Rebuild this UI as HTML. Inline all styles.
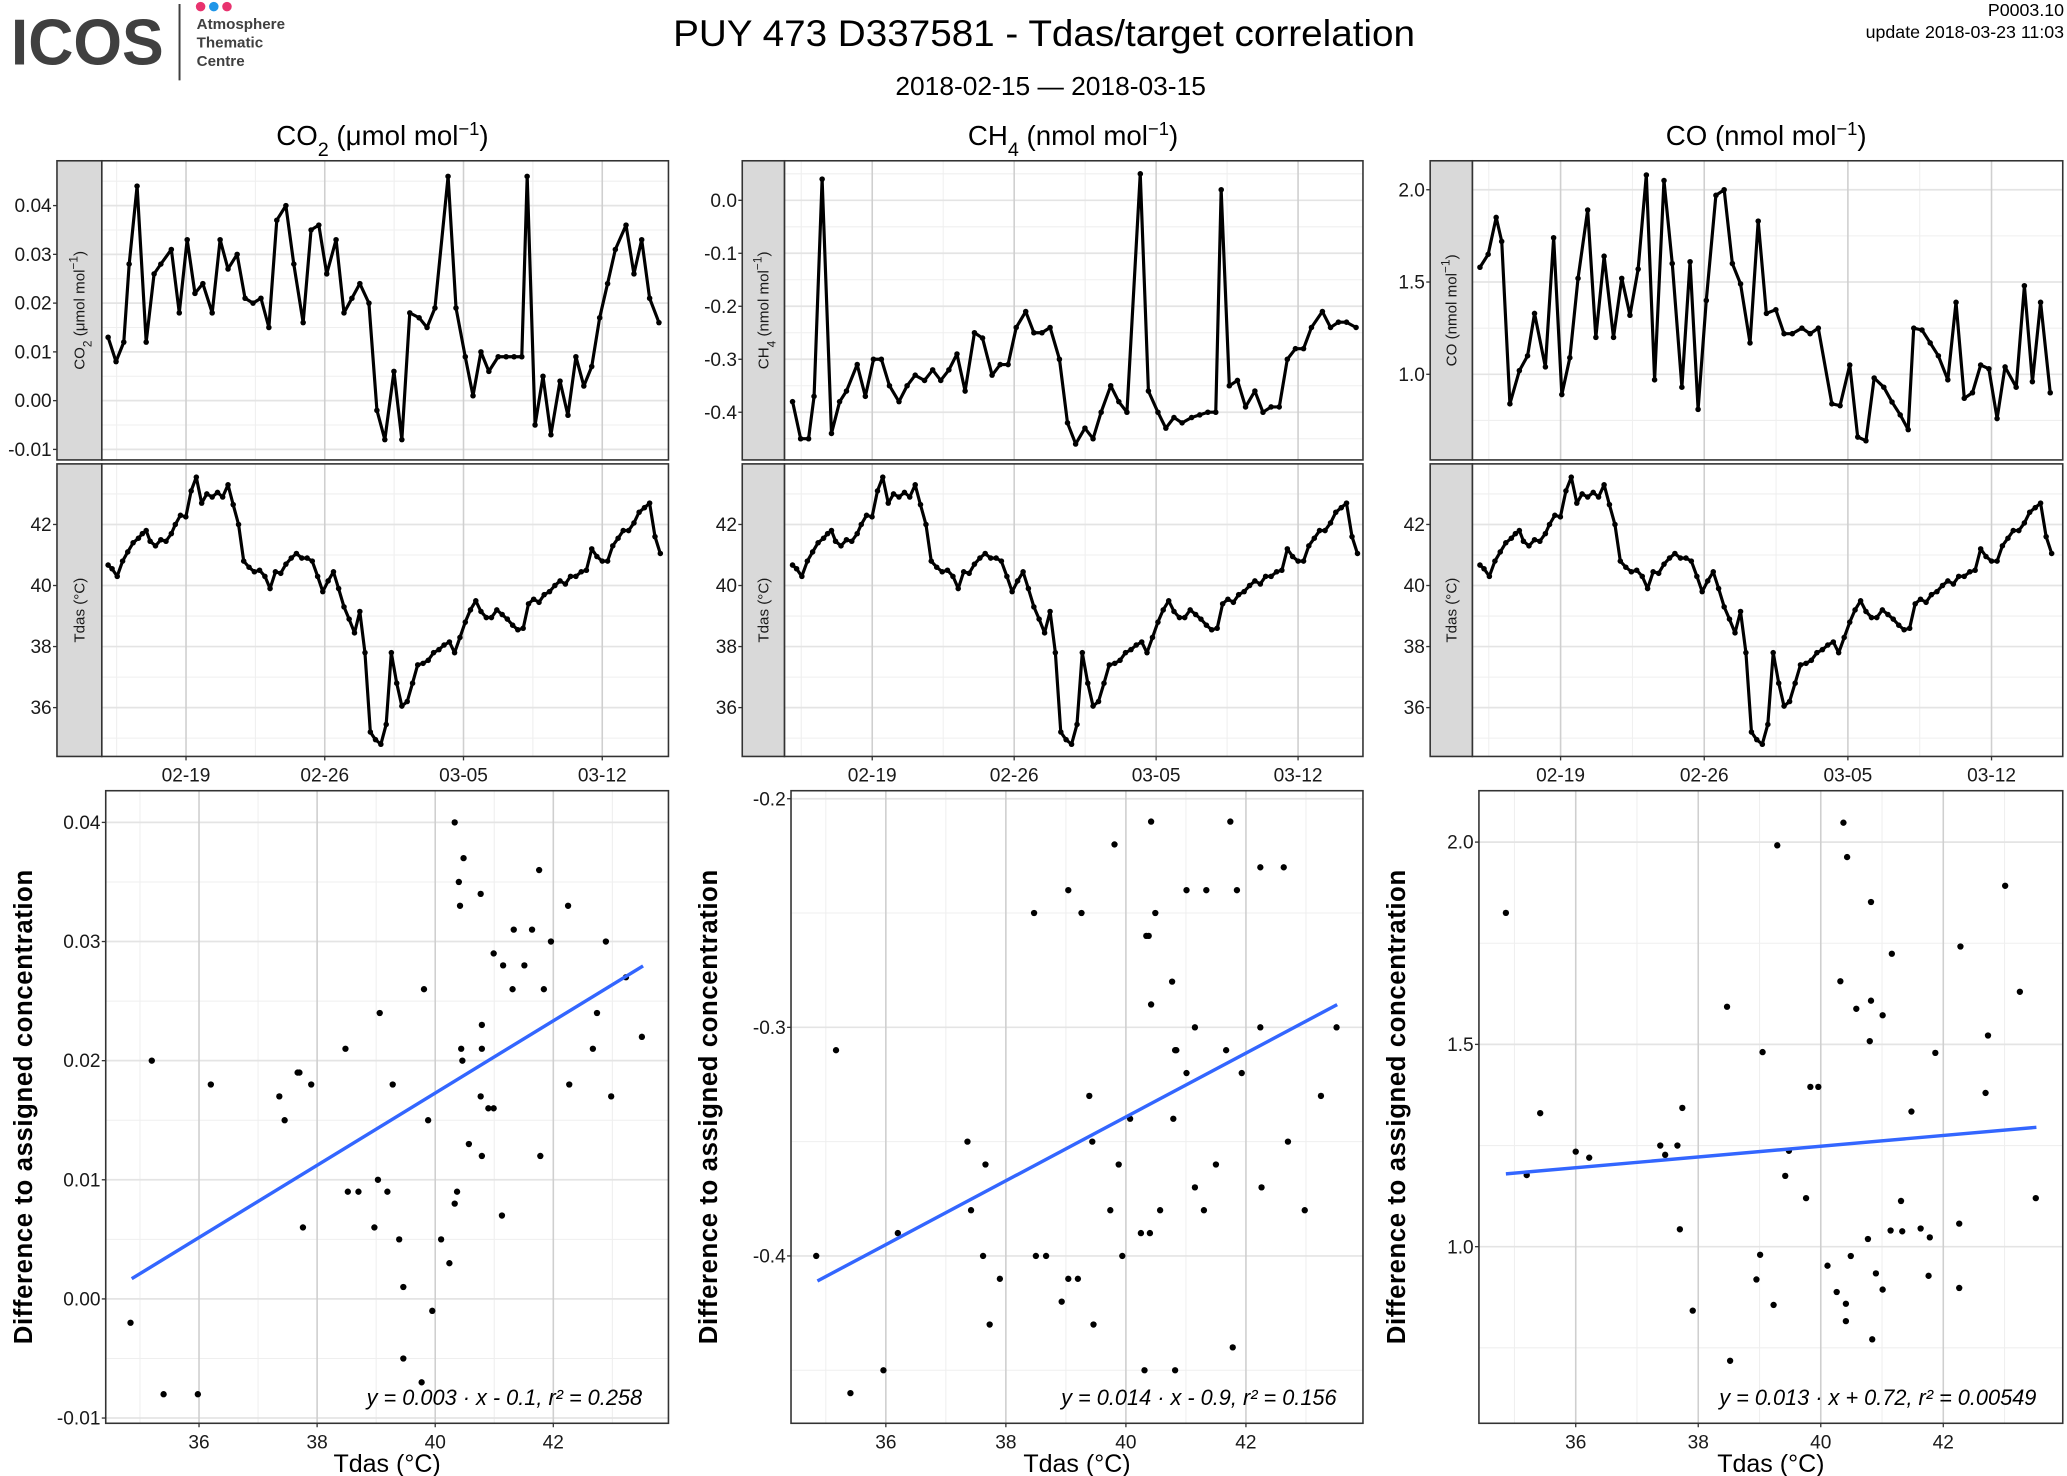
<!DOCTYPE html>
<html><head><meta charset="utf-8"><style>
html,body{margin:0;padding:0;background:#fff}
svg{display:block;font-family:"Liberation Sans",Arial,sans-serif}
</style></head><body>
<svg id="chart" xmlns="http://www.w3.org/2000/svg" width="2067" height="1476" viewBox="0 0 1568 1120">
<g>
<text x="8" y="49" font-size="49" font-weight="bold" fill="#404040" textLength="116" lengthAdjust="spacingAndGlyphs">ICOS</text>
<line x1="136" y1="3" x2="136" y2="61" stroke="#404040" stroke-width="1.5"/>
<circle cx="152" cy="5" r="3.6" fill="#e8336f"/><circle cx="162" cy="5" r="3.6" fill="#1f96e8"/><circle cx="172" cy="5" r="3.6" fill="#e8336f"/>
<text x="149" y="22" font-size="11.5" font-weight="bold" fill="#404040">Atmosphere</text>
<text x="149" y="36" font-size="11.5" font-weight="bold" fill="#404040">Thematic</text>
<text x="149" y="50" font-size="11.5" font-weight="bold" fill="#404040">Centre</text>
</g>
<text x="792" y="35" font-size="28" text-anchor="middle" textLength="563" lengthAdjust="spacingAndGlyphs">PUY 473 D337581 - Tdas/target correlation</text>
<text x="797" y="72" font-size="20" text-anchor="middle">2018-02-15 — 2018-03-15</text>
<text x="1566" y="12" font-size="13.5" text-anchor="end">P0003.10</text>
<text x="1566" y="29" font-size="13.5" text-anchor="end">update  2018-03-23 11:03</text>
<g id="plots"></g>
</svg>
<script>
// ---- data ----
const gasTimes=[0.07,0.47,0.86,1.13,1.53,1.99,2.39,2.73,3.26,3.66,4.06,4.45,4.85,5.32,5.72,6.12,6.58,6.98,7.38,7.78,8.18,8.58,9.04,9.44,9.91,10.31,10.7,11.1,11.57,11.97,12.37,12.77,13.23,13.63,14.03,14.49,14.89,15.29,15.76,16.16,16.56,17.22,17.62,18.09,18.48,18.88,19.28,19.75,20.15,20.55,20.94,21.21,21.61,22.01,22.41,22.87,23.27,23.67,24.07,24.47,24.87,25.27,25.66,26.2,26.6,26.99,27.39,27.86];
const co2Values=[0.013,0.008,0.012,0.028,0.044,0.012,0.026,0.028,0.031,0.018,0.033,0.022,0.024,0.018,0.033,0.027,0.030,0.021,0.020,0.021,0.015,0.037,0.040,0.028,0.016,0.035,0.036,0.026,0.033,0.018,0.021,0.024,0.020,-0.002,-0.008,0.006,-0.008,0.018,0.017,0.015,0.019,0.046,0.019,0.009,0.001,0.010,0.006,0.009,0.009,0.009,0.009,0.046,-0.005,0.005,-0.007,0.004,-0.003,0.009,0.003,0.007,0.017,0.024,0.031,0.036,0.026,0.033,0.021,0.016];
const ch4Values=[-0.38,-0.45,-0.45,-0.37,0.04,-0.44,-0.38,-0.36,-0.31,-0.37,-0.30,-0.30,-0.35,-0.38,-0.35,-0.33,-0.34,-0.32,-0.34,-0.32,-0.29,-0.36,-0.25,-0.26,-0.33,-0.31,-0.31,-0.24,-0.21,-0.25,-0.25,-0.24,-0.30,-0.42,-0.46,-0.43,-0.45,-0.40,-0.35,-0.38,-0.40,0.05,-0.36,-0.40,-0.43,-0.41,-0.42,-0.41,-0.405,-0.40,-0.40,0.02,-0.35,-0.34,-0.39,-0.36,-0.40,-0.39,-0.39,-0.30,-0.28,-0.28,-0.24,-0.21,-0.24,-0.23,-0.23,-0.24];
const coValues=[1.58,1.65,1.85,1.72,0.84,1.02,1.10,1.33,1.04,1.74,0.89,1.09,1.52,1.89,1.20,1.64,1.20,1.52,1.32,1.57,2.08,0.97,2.05,1.60,0.93,1.61,0.81,1.40,1.97,2.00,1.60,1.49,1.17,1.83,1.33,1.35,1.22,1.22,1.25,1.22,1.25,0.84,0.83,1.05,0.66,0.64,0.98,0.93,0.85,0.78,0.70,1.25,1.24,1.17,1.10,0.97,1.39,0.87,0.90,1.05,1.03,0.76,1.04,0.93,1.48,0.96,1.39,0.90];
const tdasTimes=[0.07,0.27,0.53,0.8,1.06,1.33,1.6,1.8,1.99,2.19,2.46,2.73,2.99,3.26,3.46,3.72,3.99,4.26,4.52,4.79,5.05,5.32,5.59,5.85,6.12,6.38,6.65,6.91,7.18,7.45,7.71,7.98,8.24,8.51,8.78,9.04,9.31,9.57,9.84,10.11,10.37,10.64,10.9,11.17,11.44,11.7,11.97,12.23,12.5,12.77,13.03,13.3,13.56,13.83,14.1,14.36,14.63,14.89,15.16,15.43,15.69,15.96,16.22,16.49,16.76,17.02,17.29,17.55,17.82,18.09,18.35,18.62,18.88,19.15,19.41,19.68,19.95,20.21,20.48,20.74,21.01,21.28,21.54,21.81,22.07,22.34,22.61,22.87,23.14,23.4,23.67,23.94,24.2,24.47,24.73,25,25.27,25.53,25.8,26.06,26.33,26.6,26.86,27.13,27.39,27.66,27.93];
const tdasValues=[40.67,40.55,40.3,40.8,41.1,41.4,41.55,41.7,41.8,41.45,41.3,41.5,41.45,41.7,42,42.3,42.25,43.1,43.55,42.7,43.0,42.9,43.05,42.9,43.3,42.65,42,40.8,40.6,40.45,40.5,40.3,39.9,40.45,40.4,40.7,40.9,41.05,40.9,40.9,40.8,40.3,39.8,40.15,40.45,39.9,39.3,38.9,38.45,39.15,37.8,35.2,34.95,34.8,35.45,37.8,36.8,36.05,36.2,36.8,37.4,37.45,37.55,37.8,37.9,38.05,38.15,37.8,38.3,38.8,39.2,39.5,39.15,38.95,38.95,39.2,39.05,38.9,38.7,38.55,38.6,39.4,39.55,39.45,39.7,39.8,40,40.15,40.05,40.3,40.3,40.45,40.5,41.2,40.95,40.8,40.8,41.3,41.55,41.8,41.8,42.05,42.4,42.55,42.7,41.6,41.05];
const dateTickDays=[4,11,18,25];
const dateTickLabels=["02-19","02-26","03-05","03-12"];
const co2Ticks=[0.04,0.03,0.02,0.01,0.00,-0.01];
const co2TickLabels=["0.04","0.03","0.02","0.01","0.00","-0.01"];
const ch4Ticks=[0.0,-0.1,-0.2,-0.3,-0.4];
const ch4TickLabels=["0.0","-0.1","-0.2","-0.3","-0.4"];
const coTicks=[2.0,1.5,1.0];
const coTickLabels=["2.0","1.5","1.0"];
const tdasTicks=[42,40,38,36];
const tdasTickLabels=["42","40","38","36"];
const ch4ScatTicks=[-0.2,-0.3,-0.4];
const ch4ScatTickLabels=["-0.2","-0.3","-0.4"];
const scatXTicks=[36,38,40,42];
const scatXTickLabels=["36","38","40","42"];
const co2ScatT=[34.84,35.2,35.4,35.98,36.2,37.36,37.45,37.67,37.7,37.76,37.9,38.48,38.52,38.7,38.97,39.03,39.06,39.19,39.28,39.39,39.46,39.46,39.77,39.81,39.88,39.95,40.1,40.24,40.33,40.37,40.33,40.4,40.42,40.48,40.44,40.46,40.57,40.77,40.79,40.79,40.79,40.77,40.9,40.99,40.99,41.13,41.15,41.31,41.33,41.51,41.64,41.76,41.78,41.84,41.96,42.25,42.27,42.67,42.74,42.89,42.98,43.23,43.5];
const co2ScatV=[-0.002,0.020,-0.008,-0.008,0.018,0.017,0.015,0.019,0.019,0.006,0.018,0.021,0.009,0.009,0.006,0.010,0.024,0.009,0.018,0.005,0.001,-0.005,-0.007,0.026,0.015,-0.001,0.005,0.003,0.008,0.009,0.040,0.035,0.033,0.037,0.021,0.020,0.013,0.017,0.021,0.023,0.012,0.034,0.016,0.016,0.029,0.007,0.028,0.026,0.031,0.028,0.031,0.036,0.012,0.026,0.030,0.033,0.018,0.021,0.024,0.030,0.017,0.027,0.022];
const ch4ScatT=[34.84,35.17,35.41,35.96,36.2,37.36,37.42,37.66,37.62,37.73,37.9,38.47,38.5,38.67,38.93,39.04,39.04,39.2,39.26,39.39,39.44,39.46,39.74,39.81,39.88,39.94,40.07,40.25,40.31,40.34,40.38,40.4,40.42,40.42,40.49,40.57,40.77,40.79,40.82,40.84,40.82,41.01,41.01,41.15,41.15,41.3,41.34,41.5,41.67,41.74,41.78,41.85,41.93,42.24,42.26,42.24,42.63,42.7,42.98,43.25,43.51];
const ch4ScatV=[-0.40,-0.31,-0.46,-0.45,-0.39,-0.35,-0.38,-0.36,-0.40,-0.43,-0.41,-0.25,-0.40,-0.40,-0.42,-0.41,-0.24,-0.41,-0.25,-0.33,-0.35,-0.43,-0.38,-0.22,-0.36,-0.40,-0.34,-0.39,-0.45,-0.26,-0.26,-0.39,-0.21,-0.29,-0.25,-0.38,-0.28,-0.34,-0.31,-0.31,-0.45,-0.24,-0.32,-0.30,-0.37,-0.38,-0.24,-0.36,-0.31,-0.21,-0.44,-0.24,-0.32,-0.30,-0.37,-0.23,-0.23,-0.35,-0.38,-0.33,-0.30];
const coScatT=[34.86,35.2,35.42,36,36.22,37.38,37.46,37.66,37.7,37.74,37.91,38.47,38.52,38.95,39.01,39.05,39.23,39.29,39.42,39.48,39.76,39.83,39.96,40.11,40.26,40.32,40.37,40.41,40.41,40.43,40.49,40.58,40.77,40.8,40.82,40.82,40.84,40.9,41.01,41.01,41.14,41.16,41.31,41.33,41.48,41.63,41.76,41.78,41.87,42.26,42.26,42.28,42.69,42.73,43.01,43.25,43.51];
const coScatV=[1.825,1.177,1.33,1.235,1.22,1.25,1.227,1.25,1.043,1.343,0.842,1.593,0.718,0.919,0.98,1.481,0.856,1.992,1.175,1.237,1.12,1.395,1.395,0.953,0.888,1.656,2.048,0.859,0.816,1.963,0.977,1.588,1.019,1.508,1.608,1.852,0.771,0.934,0.894,1.572,1.04,1.724,1.113,1.038,1.334,1.045,0.928,1.023,1.479,1.057,0.898,1.742,1.38,1.522,1.892,1.63,1.12];
const co2Fit=[0.003032,-0.1040];
const ch4Fit=[0.01396,-0.8976];
const coFit=[0.01329,0.7167];
const fitXRange=[34.86,43.52];
const eqLabels=["y = 0.003 · x - 0.1,  r² = 0.258","y = 0.014 · x - 0.9,  r² = 0.156","y = 0.013 · x + 0.72,  r² = 0.00549"];

// ---- drawing ----
const NS="http://www.w3.org/2000/svg";
const root=document.getElementById('plots');
function mk(tag,attrs,parent){const e=document.createElementNS(NS,tag);for(const k in attrs)e.setAttribute(k,attrs[k]);(parent||root).appendChild(e);return e;}
function scale(d0,d1,r0,r1){return v=>r0+(v-d0)/(d1-d0)*(r1-r0);}
function mids(arr){const m=[];for(let i=0;i<arr.length-1;i++)m.push((arr[i]+arr[i+1])/2);return m;}

function tsPanel(c){
  const g=mk('g',{});
  
  
  const xs=scale(c.tmin,c.tmax,c.x0,c.x1), ys=scale(c.vmin,c.vmax,c.y1,c.y0);
  mk('rect',{x:c.x0,y:c.y0,width:c.x1-c.x0,height:c.y1-c.y0,fill:'#fff'},g);
  const step=c.ticks[0]-c.ticks[1];
  const yminor=mids(c.ticks).concat([c.ticks[0]+step/2,c.ticks[c.ticks.length-1]-step/2]);
  yminor.forEach(v=>{const y=ys(v);if(y>c.y0&&y<c.y1)mk('line',{x1:c.x0,x2:c.x1,y1:y,y2:y,stroke:'#efefef','stroke-width':0.8},g);});
  const xminor=[0.5,7.5,14.5,21.5,28.5];
  xminor.forEach(v=>{const x=xs(v);if(x>c.x0&&x<c.x1)mk('line',{x1:x,x2:x,y1:c.y0,y2:c.y1,stroke:'#efefef','stroke-width':0.8},g);});
  c.ticks.forEach(v=>{const y=ys(v);mk('line',{x1:c.x0,x2:c.x1,y1:y,y2:y,stroke:'#e4e4e4','stroke-width':1.3},g);});
  dateTickDays.forEach(v=>{const x=xs(v);mk('line',{x1:x,x2:x,y1:c.y0,y2:c.y1,stroke:'#cfcfcf','stroke-width':1.2},g);});
  const pts=c.times.map((t,i)=>xs(t).toFixed(1)+','+ys(c.values[i]).toFixed(1)).join(' ');
  const line=mk('polyline',{points:pts,fill:'none',stroke:'#000','stroke-width':2.4,'stroke-linejoin':'round'},g);
  
  
  c.times.forEach((t,i)=>{const p=mk('circle',{cx:xs(t),cy:ys(c.values[i]),r:2.1,fill:'#000'},g);
    
    });
  mk('rect',{x:c.x0,y:c.y0,width:c.x1-c.x0,height:c.y1-c.y0,fill:'none',stroke:'#333','stroke-width':1.2},g);
  const strip=mk('rect',{x:c.sx,y:c.y0,width:c.x0-c.sx,height:c.y1-c.y0,fill:'#d9d9d9',stroke:'#333','stroke-width':1.2},g);
  
  
  const cx=(c.sx+c.x0)/2+4, cy=(c.y0+c.y1)/2;
  const st=mk('text',{x:cx,y:cy,'font-size':11.5,fill:'#1a1a1a','text-anchor':'middle',transform:`rotate(-90 ${cx} ${cy})`},g);
  st.innerHTML=c.strip;
  
  
  c.ticks.forEach((v,i)=>{const y=ys(v);
    mk('line',{x1:c.sx-3,x2:c.sx,y1:y,y2:y,stroke:'#333','stroke-width':1},g);
    const t=mk('text',{x:c.sx-4,y:y+5,'font-size':14.5,fill:'#1a1a1a','text-anchor':'end'},g);
    t.textContent=c.labels[i];
    
    });
  if(c.dates){dateTickDays.forEach((d,i)=>{const x=xs(d);
    mk('line',{x1:x,x2:x,y1:c.y1,y2:c.y1+3,stroke:'#333','stroke-width':1},g);
    const t=mk('text',{x:x,y:c.y1+19,'font-size':14.5,fill:'#1a1a1a','text-anchor':'middle'},g);
    t.textContent=dateTickLabels[i];
    
    });}
}

function scatPanel(c){
  const g=mk('g',{});
  
  
  const xs=scale(34.42,43.95,c.x0,c.x1), ys=scale(c.vmin,c.vmax,c.y1,c.y0);
  mk('rect',{x:c.x0,y:c.y0,width:c.x1-c.x0,height:c.y1-c.y0,fill:'#fff'},g);
  const step=c.ticks[0]-c.ticks[1];
  const yminor=mids(c.ticks).concat([c.ticks[0]+step/2,c.ticks[c.ticks.length-1]-step/2]);
  yminor.forEach(v=>{const y=ys(v);if(y>c.y0&&y<c.y1)mk('line',{x1:c.x0,x2:c.x1,y1:y,y2:y,stroke:'#efefef','stroke-width':0.8},g);});
  [35,37,39,41,43].forEach(v=>{const x=xs(v);mk('line',{x1:x,x2:x,y1:c.y0,y2:c.y1,stroke:'#efefef','stroke-width':0.8},g);});
  c.ticks.forEach(v=>{const y=ys(v);mk('line',{x1:c.x0,x2:c.x1,y1:y,y2:y,stroke:'#e4e4e4','stroke-width':1.3},g);});
  scatXTicks.forEach(v=>{const x=xs(v);mk('line',{x1:x,x2:x,y1:c.y0,y2:c.y1,stroke:'#cfcfcf','stroke-width':1.2},g);});
  c.T.forEach((t,i)=>{const p=mk('circle',{cx:xs(t),cy:ys(c.V[i]),r:2.4,fill:'#000'},g);
    
    });
  const fl=mk('line',{x1:xs(fitXRange[0]),y1:ys(c.fit[0]*fitXRange[0]+c.fit[1]),x2:xs(fitXRange[1]),y2:ys(c.fit[0]*fitXRange[1]+c.fit[1]),stroke:'#3366ff','stroke-width':2.6},g);
  
  
  mk('rect',{x:c.x0,y:c.y0,width:c.x1-c.x0,height:c.y1-c.y0,fill:'none',stroke:'#333','stroke-width':1.2},g);
  c.ticks.forEach((v,i)=>{const y=ys(v);
    mk('line',{x1:c.x0-3,x2:c.x0,y1:y,y2:y,stroke:'#333','stroke-width':1},g);
    const t=mk('text',{x:c.x0-4,y:y+5,'font-size':14.5,fill:'#1a1a1a','text-anchor':'end'},g);
    t.textContent=c.labels[i];
    
    });
  scatXTicks.forEach((v,i)=>{const x=xs(v);
    mk('line',{x1:x,x2:x,y1:c.y1,y2:c.y1+3,stroke:'#333','stroke-width':1},g);
    const t=mk('text',{x:x,y:c.y1+19,'font-size':14.5,fill:'#1a1a1a','text-anchor':'middle'},g);
    t.textContent=scatXTickLabels[i];
    
    });
  const at=mk('text',{x:(c.x0+c.x1)/2,y:c.y1+37,'font-size':19,fill:'#000','text-anchor':'middle'},g);
  at.textContent='Tdas (°C)';
  
  
  const yx=c.x0-56, yy=(c.y0+c.y1)/2;
  const yt=mk('text',{x:yx,y:yy,'font-size':19.5,'font-weight':'bold',fill:'#000','text-anchor':'middle',textLength:360,lengthAdjust:'spacing',transform:`rotate(-90 ${yx} ${yy})`},g);
  yt.textContent='Difference to assigned concentration';
  
  
  const eq=mk('text',{x:c.x1-20,y:c.y1-14,'font-size':16.5,fill:'#000','text-anchor':'end','font-style':'italic'},g);
  eq.textContent=c.eq;
  
  
}

const titles=[['CO<tspan baseline-shift="sub" font-size="15">2</tspan> (μmol mol<tspan baseline-shift="super" font-size="14">−1</tspan>)',290],
              ['CH<tspan baseline-shift="sub" font-size="15">4</tspan> (nmol mol<tspan baseline-shift="super" font-size="14">−1</tspan>)',814],
              ['CO (nmol mol<tspan baseline-shift="super" font-size="14">−1</tspan>)',1340]];
titles.forEach(t=>{const e=mk('text',{x:t[1],y:110,'font-size':21,'text-anchor':'middle'});e.innerHTML=t[0];
  
  });

tsPanel({name:'co2-timeseries',sx:43,x0:77,x1:507,y0:122,y1:349,tmin:-0.25,tmax:28.34,vmin:-0.01216,vmax:0.04919,ticks:co2Ticks,labels:co2TickLabels,times:gasTimes,values:co2Values,strip:'CO<tspan baseline-shift="sub" font-size="9">2</tspan> (μmol mol<tspan baseline-shift="super" font-size="9">−1</tspan>)'});
tsPanel({name:'co2-tdas-timeseries',sx:43,x0:77,x1:507,y0:352,y1:574,tmin:-0.25,tmax:28.34,vmin:34.40,vmax:43.985,ticks:tdasTicks,labels:tdasTickLabels,times:tdasTimes,values:tdasValues,strip:'Tdas (°C)',dates:true});
tsPanel({name:'ch4-timeseries',sx:563,x0:595,x1:1034,y0:122,y1:349,tmin:-0.33,tmax:28.2,vmin:-0.49,vmax:0.0746,ticks:ch4Ticks,labels:ch4TickLabels,times:gasTimes,values:ch4Values,strip:'CH<tspan baseline-shift="sub" font-size="9">4</tspan> (nmol mol<tspan baseline-shift="super" font-size="9">−1</tspan>)'});
tsPanel({name:'ch4-tdas-timeseries',sx:563,x0:595,x1:1034,y0:352,y1:574,tmin:-0.33,tmax:28.2,vmin:34.40,vmax:43.985,ticks:tdasTicks,labels:tdasTickLabels,times:tdasTimes,values:tdasValues,strip:'Tdas (°C)',dates:true});
tsPanel({name:'co-timeseries',sx:1085,x0:1117,x1:1565,y0:122,y1:349,tmin:-0.30,tmax:28.47,vmin:0.536,vmax:2.157,ticks:coTicks,labels:coTickLabels,times:gasTimes,values:coValues,strip:'CO (nmol mol<tspan baseline-shift="super" font-size="9">−1</tspan>)'});
tsPanel({name:'co-tdas-timeseries',sx:1085,x0:1117,x1:1565,y0:352,y1:574,tmin:-0.30,tmax:28.47,vmin:34.40,vmax:43.985,ticks:tdasTicks,labels:tdasTickLabels,times:tdasTimes,values:tdasValues,strip:'Tdas (°C)',dates:true});

scatPanel({name:'co2-scatter',x0:80,x1:507,y0:600,y1:1080,vmin:-0.01044,vmax:0.04266,ticks:co2Ticks,labels:co2TickLabels,T:co2ScatT,V:co2ScatV,fit:co2Fit,eq:eqLabels[0]});
scatPanel({name:'ch4-scatter',x0:600,x1:1034,y0:600,y1:1080,vmin:-0.4732,vmax:-0.1965,ticks:ch4ScatTicks,labels:ch4ScatTickLabels,T:ch4ScatT,V:ch4ScatV,fit:ch4Fit,eq:eqLabels[1]});
scatPanel({name:'co-scatter',x0:1122,x1:1565,y0:600,y1:1080,vmin:0.5635,vmax:2.127,ticks:coTicks,labels:coTickLabels,T:coScatT,V:coScatV,fit:coFit,eq:eqLabels[2]});
</script>
</body></html>
